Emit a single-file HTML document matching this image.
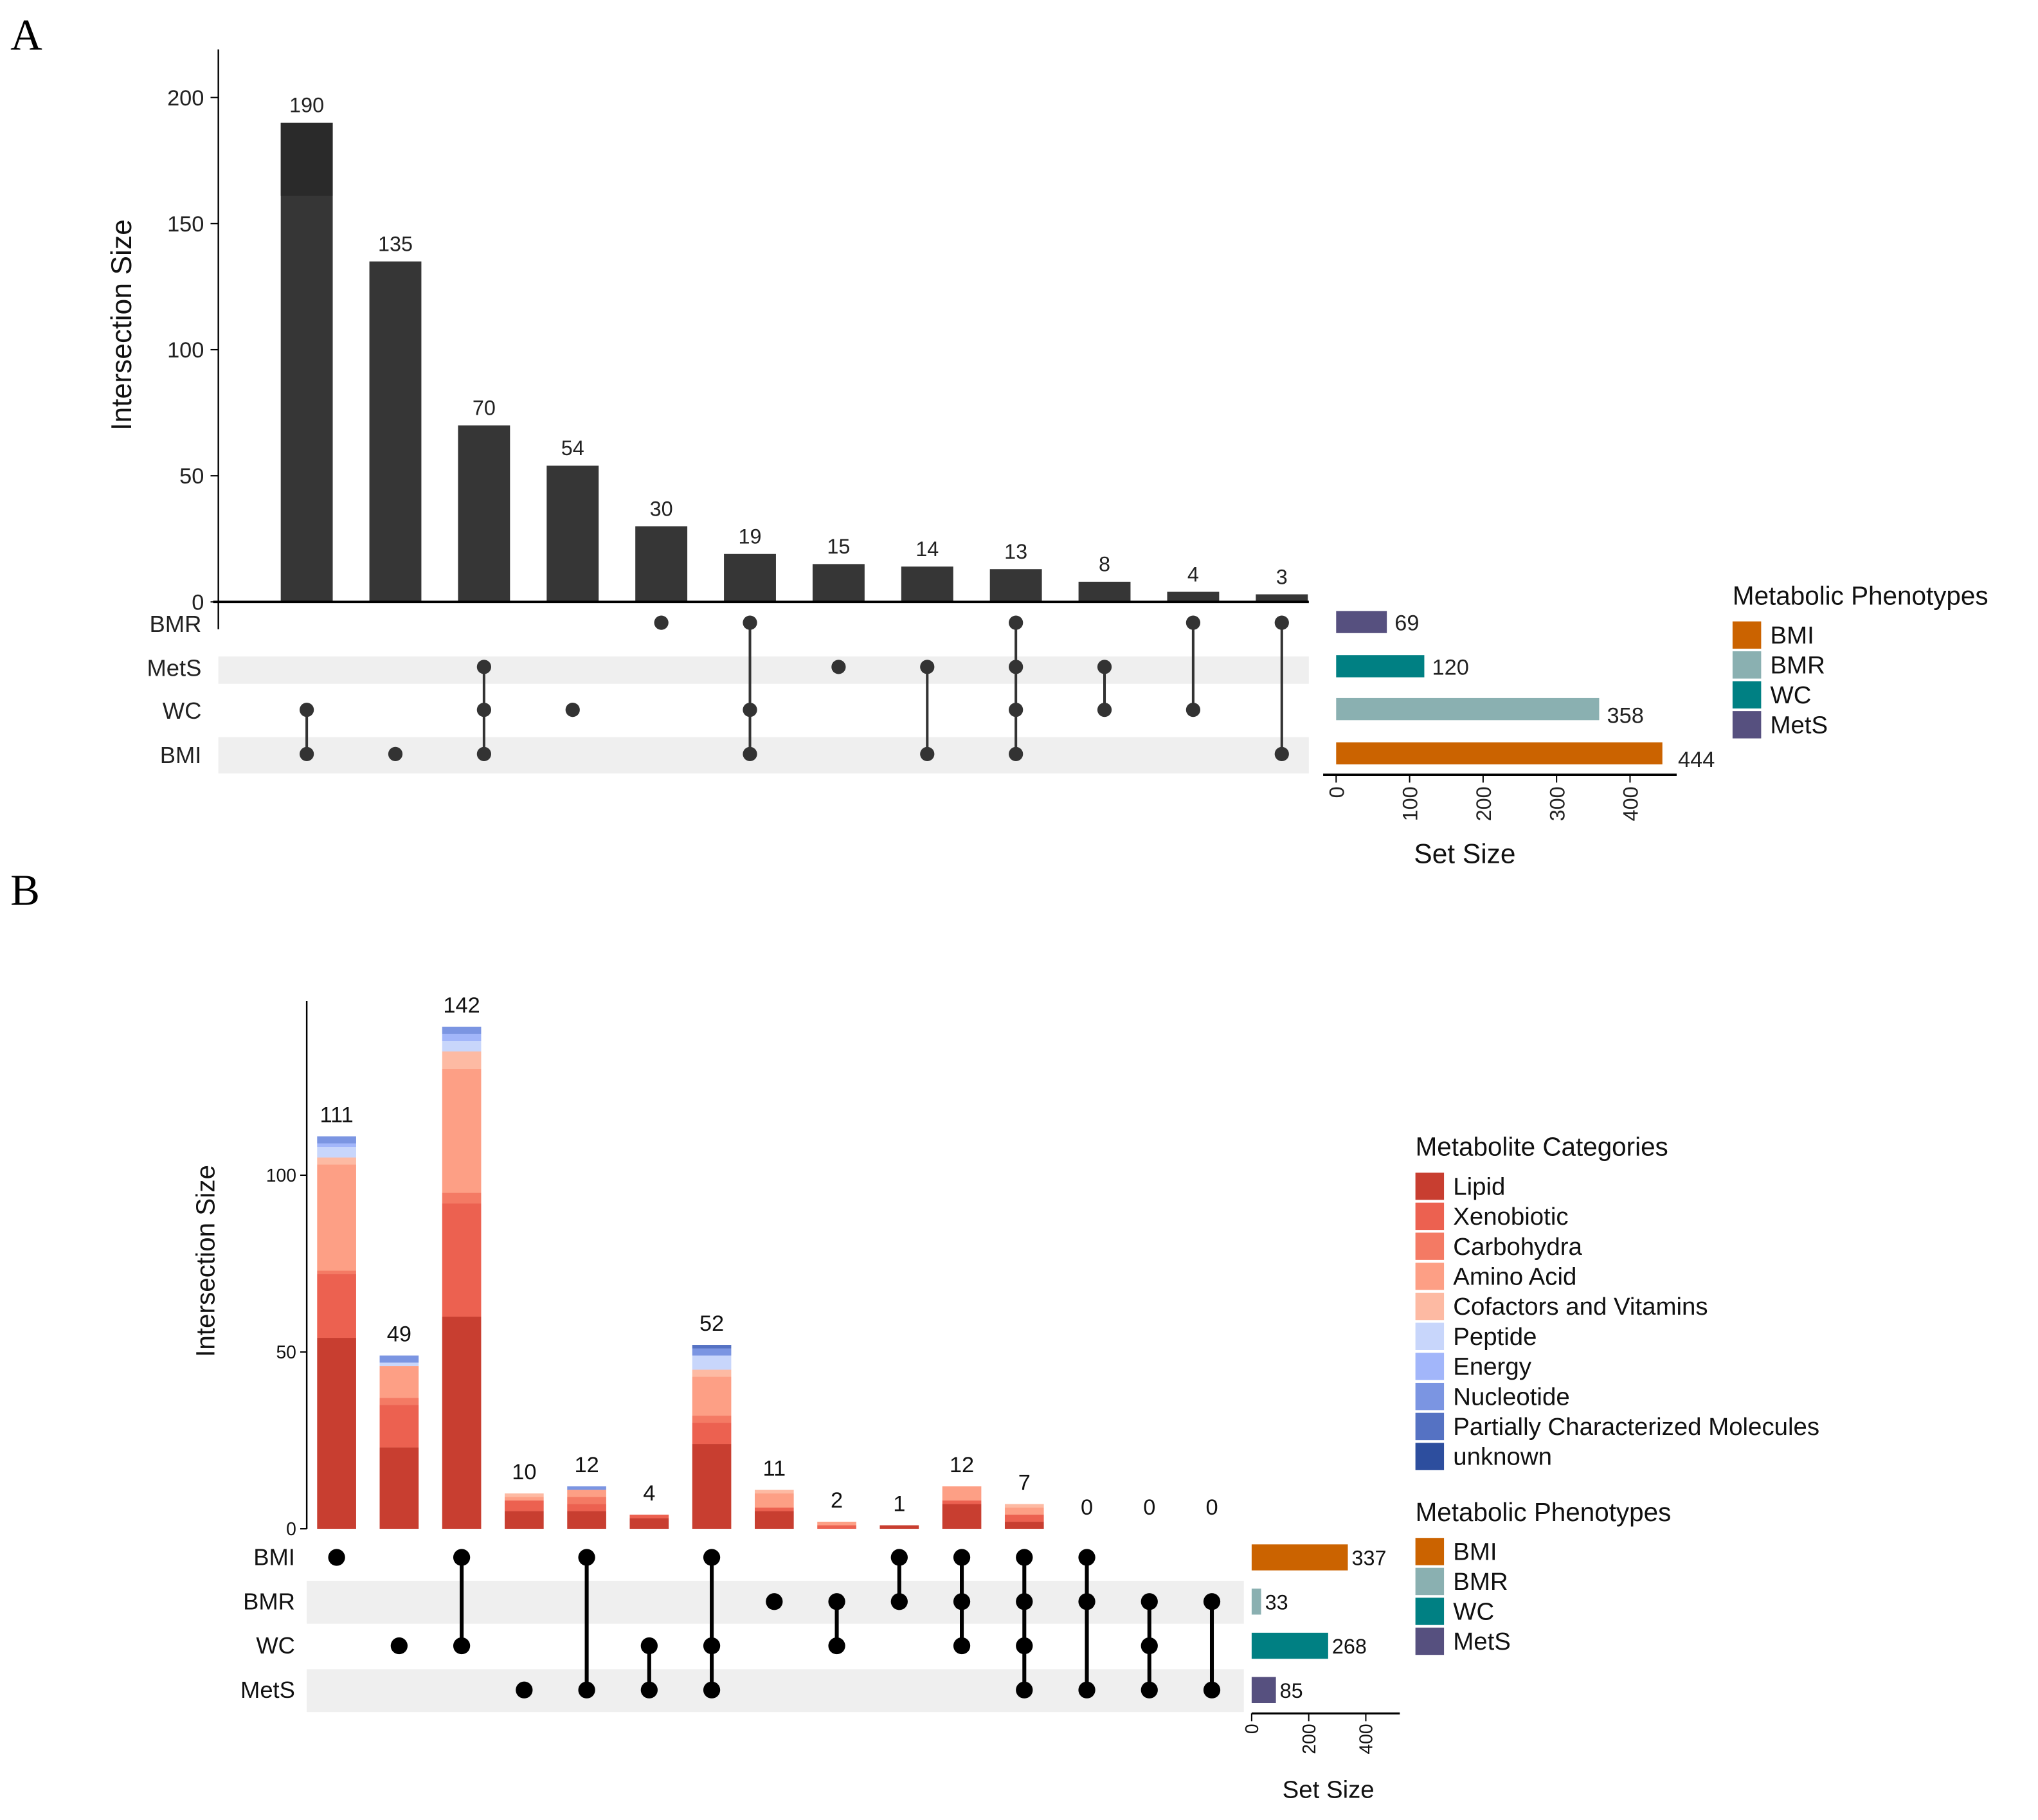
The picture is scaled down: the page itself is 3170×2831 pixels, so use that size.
<!DOCTYPE html>
<html><head><meta charset="utf-8">
<style>
html,body{margin:0;padding:0;background:#fff;}
svg{display:block;font-family:"Liberation Sans",sans-serif;}
</style></head>
<body>
<svg id="chart" width="3170" height="2831" viewBox="0 0 1568 1400" preserveAspectRatio="none" xmlns="http://www.w3.org/2000/svg"></svg>
<script>
// ---------- Panel A data ----------
const setsA = ["BMR","MetS","WC","BMI"];
const sizesA = [190,135,70,54,30,19,15,14,13,8,4,3];
const membersA = [["WC","BMI"],["BMI"],["MetS","WC","BMI"],["WC"],["BMR"],["BMR","WC","BMI"],["MetS"],["MetS","BMI"],["BMR","MetS","WC","BMI"],["MetS","WC"],["BMR","WC"],["BMR","BMI"]];
const setSizesA = [69,120,358,444];
const setColorsA = ["#56507f","#008083","#8ab0b1","#cb6300"];
const yTicksA = [0,50,100,150,200];
const setTicksA = [0,100,200,300,400];
const legendA = ["BMI","BMR","WC","MetS"];
const legendColorsA = ["#cb6300","#8ab0b1","#008083","#56507f"];

// ---------- Panel B data ----------
const setsB = ["BMI","BMR","WC","MetS"];
const categoriesB = ["Lipid","Xenobiotic","Carbohydra","Amino Acid","Cofactors and Vitamins","Peptide","Energy","Nucleotide","Partially Characterized Molecules","unknown"];
const catColorsB = ["#c83e30","#ec6150","#f47a64","#fd9f85","#fdbaa3","#c8d6fb","#a2b6fa","#7b95e2","#5572c3","#2d4e9e"];
const totalsB = [111,49,142,10,12,4,52,11,2,1,12,7,0,0,0];
const lipidB =      [54,23,60,5,5,3,24,5,0,1,7,2,0,0,0];
const xenoB =       [18,12,32,3,2,1,6,1,1,0,1,2,0,0,0];
const carbB =       [1,2,3,0,2,0,2,0,0,0,0,0,0,0,0];
const aminoB =      [30,9,35,1,2,0,11,4,1,0,4,2,0,0,0];
const cofactB =     [2,0,5,1,0,0,2,1,0,0,0,1,0,0,0];
const peptideB =    [3,1,3,0,0,0,4,0,0,0,0,0,0,0,0];
const energyB =     [1,0,2,0,0,0,0,0,0,0,0,0,0,0,0];
const nucleoB =     [2,2,2,0,1,0,2,0,0,0,0,0,0,0,0];
const partialB =    [0,0,0,0,0,0,1,0,0,0,0,0,0,0,0];
const unknownB =    [0,0,0,0,0,0,0,0,0,0,0,0,0,0,0];
const membersB = [["BMI"],["WC"],["BMI","WC"],["MetS"],["BMI","MetS"],["WC","MetS"],["BMI","WC","MetS"],["BMR"],["BMR","WC"],["BMI","BMR"],["BMI","BMR","WC"],["BMI","BMR","WC","MetS"],["BMI","BMR","MetS"],["BMR","WC","MetS"],["BMR","MetS"]];
const setSizesB = [337,33,268,85];
const setColorsB = ["#cb6300","#8ab0b1","#008083","#56507f"];
const yTicksB = [0,50,100];
const setTicksB = [0,200,400];
const legendB = ["BMI","BMR","WC","MetS"];
const legendColorsB = ["#cb6300","#8ab0b1","#008083","#56507f"];

const NS="http://www.w3.org/2000/svg";
const svg=document.getElementById('chart');
function mk(tag,attrs,parent,text){const e=document.createElementNS(NS,tag);for(const k in attrs)e.setAttribute(k,attrs[k]);if(text!==undefined)e.textContent=text;(parent||svg).appendChild(e);return e;}

// ===== Panel A =====
const gA=mk('g',{});


let t=mk('text',{x:8,y:38,'font-size':34,'font-family':'Liberation Serif, serif'},gA,'A');


const A_x0=236, A_dx=68.2, A_base=463, A_unit=(463-75)/200, A_bw=40;
const axA=x=>A_x0+x*A_dx; const ayA=v=>A_base-v*A_unit;
let l=mk('line',{x1:168,y1:38,x2:168,y2:484,stroke:'#000','stroke-width':1.2},gA);


yTicksA.forEach(v=>{
  mk('line',{x1:162,x2:168,y1:ayA(v),y2:ayA(v),stroke:'#000'},gA);
  const tt=mk('text',{x:157,y:ayA(v)+6,'text-anchor':'end','font-size':17,fill:'#222'},gA,String(v));
  
  
});
t=mk('text',{x:0,y:0,transform:'translate(101,250) rotate(-90)','text-anchor':'middle','font-size':22,fill:'#111'},gA,'Intersection Size');


[1,3].forEach(i=>{const h=i===1?21:28;const r=mk('rect',{x:168,y:i===1?505:567,width:839,height:h,fill:'#efefef'},gA);

});
const rowYA=[479,513,546,580];
setsA.forEach((s,i)=>{const tt=mk('text',{x:155,y:rowYA[i]+7,'text-anchor':'end','font-size':18,fill:'#222'},gA,s);

});
sizesA.forEach((v,i)=>{
  const r=mk('rect',{x:axA(i)-A_bw/2,y:ayA(v),width:A_bw,height:A_base-ayA(v),fill:'#363636'},gA);
  
  
  const tt=mk('text',{x:axA(i),y:ayA(v)-8,'text-anchor':'middle','font-size':16,fill:'#222'},gA,String(v));
  
  
  const ys=membersA[i].map(m=>rowYA[setsA.indexOf(m)]);
  if(ys.length>1){mk('line',{x1:axA(i),x2:axA(i),y1:Math.min(...ys),y2:Math.max(...ys),stroke:'#333','stroke-width':2},gA);}
  ys.forEach(y=>{const c=mk('circle',{cx:axA(i),cy:y,r:5.5,fill:'#333'},gA);
  
  });
});
mk('rect',{x:axA(0)-A_bw/2,y:ayA(sizesA[0]),width:A_bw,height:ayA(161)-ayA(sizesA[0]),fill:'#2a2a2a'},gA);
l=mk('line',{x1:164,x2:1007,y1:A_base,y2:A_base,stroke:'#000','stroke-width':1.8},gA);


const S0A=1028, sUA=(1279-1028)/444;
setSizesA.forEach((v,i)=>{
  const r=mk('rect',{x:S0A,y:rowYA[i]-9,width:v*sUA,height:17,fill:setColorsA[i]},gA);
  
  
  const tt=mk('text',{x:S0A+v*sUA+6+(i===3?6:0),y:rowYA[i]+6+(i>=2?4:0),'font-size':17,fill:'#222'},gA,String(v));
  
  
});
mk('line',{x1:1018,x2:1290,y1:596,y2:596,stroke:'#000','stroke-width':1.8},gA);
setTicksA.forEach(v=>{const x=S0A+v*sUA;mk('line',{x1:x,x2:x,y1:596,y2:602,stroke:'#000'},gA);
const tt=mk('text',{x:0,y:0,transform:`translate(${x+6},605) rotate(-90)`,'text-anchor':'end','font-size':16,fill:'#222'},gA,String(v));

});
t=mk('text',{x:1127,y:664,'text-anchor':'middle','font-size':21,fill:'#111'},gA,'Set Size');


t=mk('text',{x:1333,y:465,'font-size':20,fill:'#111'},gA,'Metabolic Phenotypes');


legendA.forEach((s,i)=>{const y=478+i*23;mk('rect',{x:1333,y:y,width:22,height:21,fill:legendColorsA[i]},gA);
const tt=mk('text',{x:1362,y:y+17,'font-size':19,fill:'#111'},gA,s);

});

// ===== Panel B =====
const gB=mk('g',{});


t=mk('text',{x:8,y:696,'font-size':34,'font-family':'Liberation Serif, serif'},gB,'B');


const B_x0=259, B_dx=48.1, B_base=1176, B_unit=(1176-904)/100, B_bw=30;
const axB=x=>B_x0+x*B_dx; const ayB=v=>B_base-v*B_unit;
l=mk('line',{x1:236,y1:770,x2:236,y2:1176,stroke:'#000','stroke-width':1.2},gB);


yTicksB.forEach(v=>{mk('line',{x1:231,x2:236,y1:ayB(v),y2:ayB(v),stroke:'#000'},gB);
const tt=mk('text',{x:228,y:ayB(v)+5,'text-anchor':'end','font-size':14,fill:'#111'},gB,String(v));

});
t=mk('text',{x:0,y:0,transform:'translate(165,970) rotate(-90)','text-anchor':'middle','font-size':20,fill:'#111'},gB,'Intersection Size');


const rowYB=[1198,1232,1266,1300];
[[1216,33],[1284,33]].forEach(b=>{const r=mk('rect',{x:236,y:b[0],width:721,height:b[1],fill:'#efefef'},gB);

});
setsB.forEach((s,i)=>{const tt=mk('text',{x:227,y:rowYB[i]+6,'text-anchor':'end','font-size':18,fill:'#111'},gB,s);

});
const stacks=[lipidB,xenoB,carbB,aminoB,cofactB,peptideB,energyB,nucleoB,partialB,unknownB];
totalsB.forEach((tot,i)=>{
  let cum=0;
  stacks.forEach((arr,k)=>{const v=arr[i];if(v>0){const r=mk('rect',{x:axB(i)-B_bw/2,y:ayB(cum+v),width:B_bw,height:v*B_unit,fill:catColorsB[k]},gB);
    
    
    cum+=v;}});
  const tt=mk('text',{x:axB(i),y:ayB(tot)-11,'text-anchor':'middle','font-size':17,fill:'#111'},gB,String(tot));
  
  
  const ys=membersB[i].map(m=>rowYB[setsB.indexOf(m)]);
  if(ys.length>1){mk('line',{x1:axB(i),x2:axB(i),y1:Math.min(...ys),y2:Math.max(...ys),stroke:'#000','stroke-width':3},gB);}
  ys.forEach(y=>{const c=mk('circle',{cx:axB(i),cy:y,r:6.5,fill:'#000'},gB);
  
  });
});
const S0B=963, sUB=(1037-963)/337;
setSizesB.forEach((v,i)=>{
  const r=mk('rect',{x:S0B,y:rowYB[i]-10,width:v*sUB,height:20,fill:setColorsB[i]},gB);
  
  
  const tt=mk('text',{x:S0B+v*sUB+3,y:rowYB[i]+6,'font-size':16,fill:'#111'},gB,String(v));
  
  
});
mk('line',{x1:963,x2:1077,y1:1318,y2:1318,stroke:'#000','stroke-width':1.5},gB);
setTicksB.forEach(v=>{const x=S0B+v*sUB;mk('line',{x1:x,x2:x,y1:1318,y2:1324,stroke:'#000'},gB);
const tt=mk('text',{x:0,y:0,transform:`translate(${x+5},1326) rotate(-90)`,'text-anchor':'end','font-size':14,fill:'#111'},gB,String(v));

});
t=mk('text',{x:1022,y:1383,'text-anchor':'middle','font-size':19,fill:'#111'},gB,'Set Size');


t=mk('text',{x:1089,y:889,'font-size':20,fill:'#111'},gB,'Metabolite Categories');


categoriesB.forEach((s,i)=>{const y=902+i*23.1;mk('rect',{x:1089,y:y,width:22,height:21,fill:catColorsB[i]},gB);
const tt=mk('text',{x:1118,y:y+17,'font-size':19,fill:'#111'},gB,s);

});
t=mk('text',{x:1089,y:1170,'font-size':20,fill:'#111'},gB,'Metabolic Phenotypes');


legendB.forEach((s,i)=>{const y=1183+i*23;mk('rect',{x:1089,y:y,width:22,height:21,fill:legendColorsB[i]},gB);
const tt=mk('text',{x:1118,y:y+17,'font-size':19,fill:'#111'},gB,s);

});
</script>
</body></html>
